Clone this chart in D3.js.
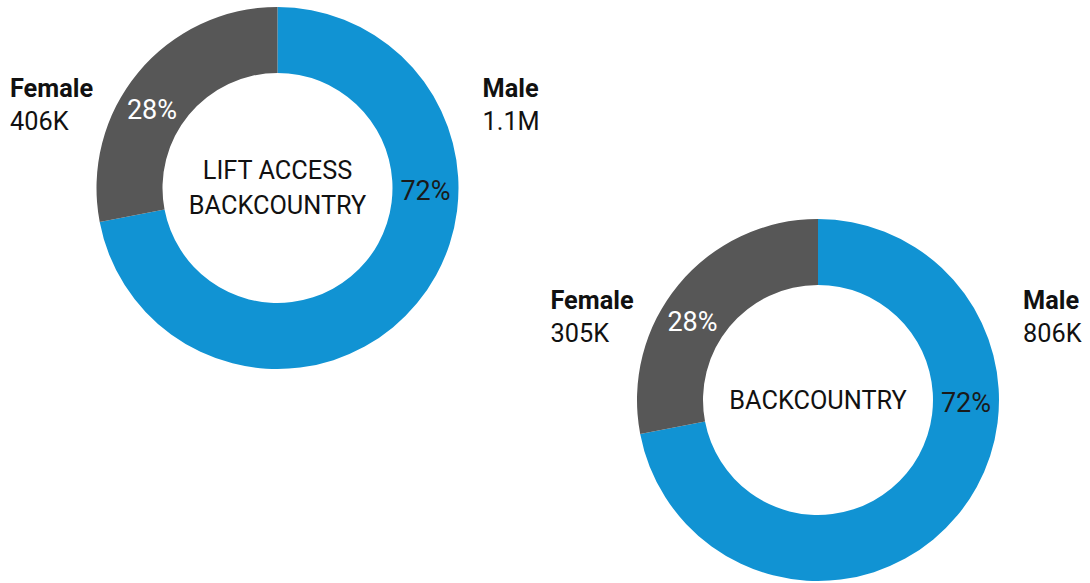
<!DOCTYPE html>
<html>
<head>
<meta charset="utf-8">
<script src="https://cdn.jsdelivr.net/npm/d3@7"></script>
<style>
  html, body { margin: 0; padding: 0; background: #ffffff; }
  svg { display: block; }
  text { font-family: Roboto, "Noto Sans", sans-serif; }
</style>
</head>
<body>
<svg id="chart" width="1090" height="583"></svg>
<script>
// Ski-touring participants by gender, two segments
const segmentTitles = [["LIFT ACCESS", "BACKCOUNTRY"], ["BACKCOUNTRY"]];
const categories = ["Male", "Female"];
const maleShare = [72, 72];        // percent of participants
const femaleShare = [28, 28];
const maleCount = ["1.1M", "806K"];
const femaleCount = ["406K", "305K"];

const colors = { Male: "#1193d3", Female: "#575757" };
const pctTextColor = { Male: "#1a1a1a", Female: "#ffffff" };
// angle (degrees, clockwise from 12 o'clock) where each percentage sits
const pctAngle = { Male: 91, Female: 302 };

const svg = d3.select("#chart");
const centers = [{ x: 277.5, y: 188 }, { x: 818, y: 400 }];
const outerR = 181, innerR = 115;

const pie = d3.pie().sort(null).value(d => d.share).startAngle(0).endAngle(2 * Math.PI);
const arc = d3.arc().innerRadius(innerR).outerRadius(outerR);
const labelR = (innerR + outerR) / 2;

segmentTitles.forEach((title, i) => {
  const rows = categories.map(c => ({
    cat: c,
    share: c === "Male" ? maleShare[i] : femaleShare[i],
    count: c === "Male" ? maleCount[i] : femaleCount[i]
  }));
  const c = centers[i];
  const g = svg.append("g").attr("transform", `translate(${c.x},${c.y})`);

  g.selectAll("path.slice")
    .data(pie(rows))
    .join("path")
    .attr("class", "slice")
    .attr("d", arc)
    .attr("fill", d => colors[d.data.cat]);

  // percentage inside each ring segment
  g.selectAll("text.pct")
    .data(pie(rows))
    .join("text")
    .attr("class", "pct")
    .attr("x", d => labelR * Math.sin(pctAngle[d.data.cat] * Math.PI / 180))
    .attr("y", d => -labelR * Math.cos(pctAngle[d.data.cat] * Math.PI / 180))
    .attr("dy", "0.35em")
    .attr("text-anchor", "middle")
    .attr("font-size", 27)
    .attr("fill", d => pctTextColor[d.data.cat])
    .text(d => d3.format(".0f")(d.data.share) + "%");

  // centre title
  const n = title.length;
  g.selectAll("text.title")
    .data(title)
    .join("text")
    .attr("class", "title")
    .attr("x", 0)
    .attr("y", (d, k) => (k - (n - 1) / 2) * 35 + 8.5)
    .attr("text-anchor", "middle")
    .attr("font-size", 25.3)
    .attr("fill", "#111111")
    .text(d => d);

  // side labels: name + count
  rows.forEach(r => {
    const lx = r.cat === "Male" ? 205 : -267.5;
    const lg = g.append("g").attr("transform", `translate(${lx},0)`);
    lg.append("text")
      .attr("y", -91)
      .attr("font-size", 25.3)
      .attr("font-weight", 700)
      .attr("fill", "#111111")
      .text(r.cat);
    lg.append("text")
      .attr("y", -58.5)
      .attr("font-size", 25.3)
      .attr("fill", "#111111")
      .text(r.count);
  });
});
</script>
</body>
</html>
